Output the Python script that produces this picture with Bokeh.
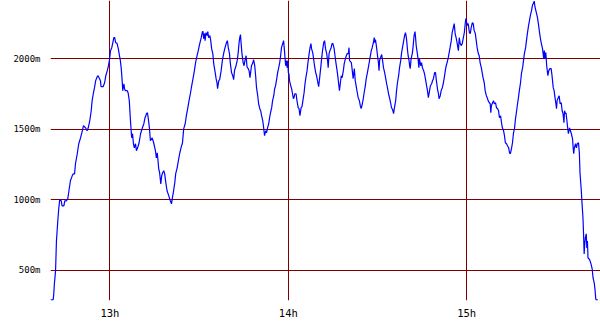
from bokeh.plotting import figure
from bokeh.models import Range1d, FixedTicker
from bokeh.embed import file_html
from bokeh.resources import INLINE

# time in minutes after 12:00
minutes = [
    40.0, 40.9, 41.1, 41.3, 41.7, 42.0, 42.5, 42.8, 43.1, 43.6, 43.9, 44.5, 44.8, 45.4, 45.8, 46.2, 46.7, 47.3, 47.6, 48.1,
    48.4, 49.0, 49.5, 50.1, 50.7, 51.1, 51.8, 52.3, 52.7, 53.2, 53.7, 54.0, 54.4, 54.8, 55.2, 55.7, 56.0, 56.5, 56.8, 57.0,
    57.7, 58.2, 58.6, 59.1, 59.5, 59.8, 60.2, 60.6, 60.9, 61.3, 61.6, 61.9, 62.4, 62.8, 63.2, 63.5, 63.8, 64.1, 64.3, 64.7,
    64.9, 65.2, 65.8, 66.1, 66.5, 66.9, 67.3, 67.6, 67.9, 68.2, 68.6, 68.9, 69.3, 69.8, 70.3, 70.8, 71.4, 71.8, 72.3, 72.6,
    72.9, 73.3, 73.6,
    74.2, 74.7, 75.3, 75.6, 75.9, 76.1, 76.4, 76.7, 77.1, 77.4, 77.7, 78.1, 78.4, 78.8, 79.2, 79.8, 80.3, 80.7, 81.0, 81.4,
    81.8, 82.1, 82.6, 83.0, 83.5, 83.9, 84.4, 84.8, 85.3, 85.7, 86.2, 86.6, 87.1, 87.5, 88.0, 88.4, 88.8, 89.3, 89.7, 90.2,
    90.7, 91.1, 91.3, 91.5, 91.8, 92.0, 92.3, 92.7, 92.9, 93.2, 93.6, 93.9, 94.2, 94.6, 94.9, 95.4, 95.7, 96.0, 96.2, 96.6,
    96.9, 97.4, 97.8, 98.3, 98.7, 99.2, 99.5, 99.8, 100.2, 100.5, 100.9, 101.3, 101.6, 101.9, 102.4, 102.8, 103.1, 103.4,
    103.6, 103.9, 104.1, 104.4, 104.8, 105.1, 105.4, 105.8, 106.1, 106.5, 106.8, 107.1,
    107.6, 108.1, 108.3, 108.7, 109.0, 109.3, 109.7, 110.0, 110.4, 110.7, 111.0, 111.4, 111.7, 112.0, 112.4, 112.7, 113.0,
    113.4, 113.7, 114.0, 114.4, 114.7, 115.1, 115.4, 115.7, 116.1, 116.4, 116.7, 117.1, 117.4, 117.7, 118.1, 118.4, 118.7,
    118.9, 119.1, 119.3, 119.6, 119.8, 120.0, 120.2, 120.4, 120.8, 121.1, 121.4, 121.7, 121.9, 122.2, 122.6, 122.9, 123.3,
    123.6, 123.9, 124.3, 124.6, 124.9, 125.3, 125.6, 125.9, 126.3, 126.6, 127.0, 127.3, 127.6, 127.8, 128.2, 128.5, 128.8,
    129.2, 129.5, 129.8, 130.2, 130.5, 130.9, 131.2, 131.5, 131.9, 132.2, 132.5, 132.9, 133.2, 133.4, 133.7, 134.0, 134.4,
    134.7, 135.0, 135.4, 135.7, 136.0, 136.4, 136.7, 137.0, 137.2, 137.5, 137.8, 138.1, 138.5, 138.8, 139.2, 139.5, 139.8,
    140.2, 140.4, 140.6,
    141.2, 141.5, 141.8, 142.2, 142.5, 142.9, 143.2, 143.5, 143.9, 144.2, 144.5, 144.9, 145.2, 145.5, 145.9, 146.2, 146.6,
    146.9, 147.2, 147.6, 147.9, 148.2, 148.6, 148.9, 149.1, 149.3, 149.6, 149.8, 150.0, 150.3, 150.5, 150.7, 151.0, 151.4,
    151.7, 152.0, 152.4, 152.7, 153.0, 153.4, 153.7, 154.1, 154.4, 154.7, 155.1, 155.4, 155.7, 156.1, 156.4, 156.7, 157.1,
    157.4, 157.8, 158.1, 158.4, 158.8, 159.1, 159.4, 159.7, 159.9, 160.1, 160.3, 160.6, 160.8, 161.0, 161.3, 161.7, 162.0,
    162.3, 162.6, 162.8, 163.0, 163.4, 163.7, 163.9, 164.1, 164.5, 164.8, 165.1, 165.5, 165.8, 166.1, 166.5, 166.8, 167.1,
    167.5, 167.8, 168.2, 168.5, 168.8, 169.2, 169.5, 169.8, 170.2, 170.5, 170.7, 171.1, 171.4, 171.8, 172.1, 172.4, 172.8,
    173.1, 173.4, 173.8, 174.4,
    174.8, 175.1, 175.5, 175.8, 176.1, 176.5, 176.8, 177.2, 177.5, 177.8, 178.2, 178.5, 178.8, 179.2, 179.5, 179.7, 180.0,
    180.2, 180.5, 180.9, 181.2, 181.5, 181.9, 182.2, 182.5, 182.9, 183.2, 183.5, 183.9, 184.2, 184.5, 184.9, 185.2, 185.5,
    185.9, 186.2, 186.6, 186.9, 187.2, 187.6, 187.9, 188.1, 188.3, 188.7, 189.0, 189.3, 189.7, 190.0, 190.4, 190.7, 191.0,
    191.4, 191.7, 192.0, 192.4, 192.7, 193.0, 193.4, 193.7, 194.1, 194.4, 194.7, 195.1, 195.4, 195.7, 196.1, 196.4, 196.7,
    197.1, 197.4, 197.7, 198.1, 198.4, 198.8, 199.1, 199.4, 199.8, 200.1, 200.4, 200.8, 201.1, 201.4, 201.8, 202.1, 202.5,
    202.7, 202.9, 203.1, 203.5, 203.8, 204.1, 204.5, 204.8, 205.1, 205.5, 205.7, 205.9, 206.1, 206.4, 206.6, 206.9, 207.3,
    207.6, 208.0,
    208.4, 208.7, 209.1, 209.4, 209.7, 210.0, 210.2, 210.4, 210.8, 211.1, 211.4, 211.8, 212.1, 212.4, 212.7, 212.9, 213.2,
    213.4, 213.7, 214.0, 214.2, 214.6, 214.9, 215.2, 215.6, 215.8, 216.0, 216.2, 216.6, 216.9, 217.2, 217.6, 217.9, 218.1,
    218.5, 218.8, 219.1, 219.3, 219.5, 219.7, 219.9, 220.2, 220.4, 220.6, 220.8, 221.2, 221.5, 221.8, 222.2, 222.5, 222.9,
    223.2, 223.4, 223.6, 224.1,
]

# altitude in metres
altitude = [
    290, 290, 331, 402, 495, 708, 864, 943, 1000, 993, 957, 957, 993, 993, 1007, 1064, 1135, 1170, 1184, 1184,
    1256, 1327, 1398, 1440, 1490, 1526, 1511, 1490, 1511, 1561, 1632, 1704, 1753, 1796, 1846, 1874, 1881, 1860, 1846, 1803,
    1803, 1831, 1881, 1917, 1952, 1988, 2059, 2080, 2109, 2151, 2151, 2116, 2109, 2073, 2023, 1988, 1931, 1846, 1775, 1824,
    1789, 1775, 1775, 1760, 1704, 1561, 1440, 1469, 1398, 1369, 1398, 1348, 1369, 1405, 1469, 1504, 1540, 1583, 1611, 1618,
    1576, 1504, 1419,
    1440, 1405, 1348, 1298, 1334, 1291, 1220, 1192, 1113, 1170, 1192, 1206, 1184, 1120, 1064, 1028, 993, 971, 1014, 1064,
    1120, 1184, 1227, 1277, 1334, 1369, 1405, 1504, 1540, 1597, 1654, 1704, 1760, 1810, 1867, 1917, 1974, 2023, 2059, 2109,
    2151, 2194, 2194, 2144, 2180, 2130, 2187, 2166, 2194, 2151, 2166, 2130, 2073, 2038, 1967, 1903, 1860, 1831, 1789, 1846,
    1853, 1917, 1988, 2045, 2080, 2116, 2130, 2080, 2038, 1967, 1903, 1881, 1853, 1917, 1952, 1988, 2038, 2109,
    2144, 2173, 2116, 2038, 1974, 1952, 1988, 2023, 1945, 1931, 1917, 1867,
    1952, 1974, 1995, 1952, 1881, 1796, 1739, 1682, 1647, 1632, 1597, 1561, 1511, 1455, 1490, 1476, 1511,
    1540, 1583, 1618, 1654, 1704, 1739, 1789, 1810, 1860, 1903, 1931, 1974, 2023, 2080, 2109, 2130, 2059,
    2002, 1952, 1988, 1938, 1988, 1903, 1895, 1846, 1810, 1789, 1753, 1718, 1725, 1753, 1753, 1704, 1654,
    1647, 1597, 1654, 1661, 1704, 1760, 1824, 1867, 1917, 1974, 2038, 2080, 2109, 2073, 2045, 2002, 1952,
    1903, 1881, 1846, 1803, 1860, 1938, 2002, 2059, 2116, 2130, 2073, 2038, 1988, 1938, 2038, 2059, 2080,
    2109, 2109, 2073, 2023, 1974, 1917, 1867, 1810, 1775, 1831, 1881, 1867, 1917, 1967, 2002, 2023, 2038,
    2038, 2080, 1988,
    1974, 1917, 1860, 1931, 1846, 1796, 1760, 1725, 1704, 1668, 1647, 1682, 1718, 1760, 1810, 1860, 1903,
    1938, 1974, 2023, 2059, 2080, 2116, 2151, 2116, 2137, 2095, 2059, 2023, 1974, 1917, 1988, 2009, 2031,
    1988, 1938, 1903, 1867, 1831, 1789, 1753, 1718, 1689, 1654, 1639, 1611, 1654, 1704, 1775, 1831, 1881,
    1938, 1988, 2045, 2080, 2130, 2166, 2187, 2151, 2109, 2059, 2023, 1988, 1952, 1931, 2002, 2038, 2095,
    2166, 2194, 2151, 2095, 2038, 1988, 1938, 2002, 1952, 1974, 1938, 1917, 1895, 1860, 1810, 1775, 1725,
    1775, 1810, 1824, 1846, 1860, 1903, 1903, 1846, 1782, 1753, 1718, 1739, 1775, 1796, 1824, 1860, 1917,
    1952, 1974, 2009, 2080,
    2130, 2187, 2223, 2251, 2180, 2144, 2109, 2059, 2151, 2109, 2095, 2109, 2144, 2187, 2251, 2287, 2258,
    2237, 2251, 2187, 2180, 2223, 2258, 2251, 2201, 2180, 2130, 2080, 2038, 2023, 1974, 1938, 1903, 1867,
    1831, 1775, 1739, 1725, 1704, 1689, 1682, 1618, 1668, 1689, 1704, 1682, 1689, 1654, 1647, 1632, 1583,
    1597, 1547, 1511, 1490, 1455, 1405, 1398, 1384, 1369, 1334, 1327, 1369, 1405, 1469, 1511, 1575, 1618,
    1682, 1725, 1775, 1831, 1895, 1938, 1988, 2038, 2080, 2130, 2180, 2237, 2272, 2308, 2343, 2379, 2400,
    2410, 2379, 2358, 2322, 2294, 2251, 2187, 2144, 2109, 2073, 2038, 2002, 2059, 2002, 2045, 1952, 1881,
    1917, 1931,
    1931, 1881, 1796, 1775, 1725, 1682, 1647, 1704, 1725, 1739, 1682, 1689, 1632, 1611, 1547, 1632, 1611,
    1618, 1561, 1504, 1469, 1511, 1490, 1469, 1433, 1369, 1327, 1369, 1398, 1369, 1398, 1405, 1327, 1192,
    1078, 971, 872, 758, 616, 687, 729, 758, 658, 708, 587, 580, 566, 545, 509, 445,
    409, 353, 296, 290, 290,
]

hour_ticks = [60, 120, 180]
hour_labels = ["13h", "14h", "15h"]
alt_ticks = [500, 1000, 1500, 2000]
alt_labels = ["500m", "1000m", "1500m", "2000m"]

grid_color = "#800000"

p = figure(width=600, height=330, output_backend="svg", toolbar_location=None,
           x_range=Range1d(40, 225), y_range=Range1d(285, 2415),
           min_border_left=50, min_border_right=0, min_border_top=0, min_border_bottom=30)
p.outline_line_color = None
p.background_fill_color = "white"
p.border_fill_color = "white"

p.line(minutes, altitude, line_color="#0000ff", line_width=1.2)

p.xaxis.ticker = FixedTicker(ticks=hour_ticks)
p.xaxis.major_label_overrides = {t: l for t, l in zip(hour_ticks, hour_labels)}
p.yaxis.ticker = FixedTicker(ticks=alt_ticks)
p.yaxis.major_label_overrides = {t: l for t, l in zip(alt_ticks, alt_labels)}

for ax in (p.xaxis[0], p.yaxis[0]):
    ax.axis_line_color = None
    ax.major_tick_line_color = None
    ax.minor_tick_line_color = None
    ax.major_tick_in = 0
    ax.major_tick_out = 0
    ax.major_label_text_font = "DejaVu Sans Mono"
    ax.major_label_text_color = "black"

p.xaxis.major_label_text_font_size = "10.5px"
p.xaxis.major_label_standoff = 6
p.yaxis.major_label_text_font_size = "9px"
p.yaxis.major_label_standoff = 10

p.xgrid.grid_line_color = grid_color
p.ygrid.grid_line_color = grid_color
p.xgrid.grid_line_width = 1
p.ygrid.grid_line_width = 1

open("out.html", "w").write(file_html(p, INLINE))
